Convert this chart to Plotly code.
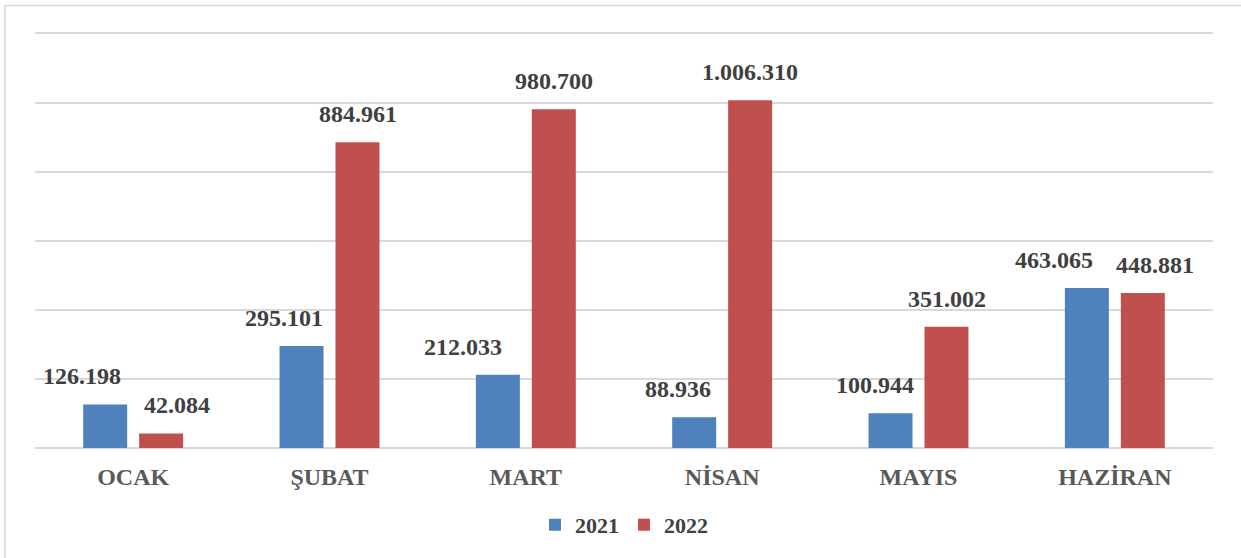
import plotly.graph_objects as go

months = ["OCAK", "ŞUBAT", "MART", "NİSAN", "MAYIS", "HAZİRAN"]
values_2021 = [126198, 295101, 212033, 88936, 100944, 463065]
values_2022 = [42084, 884961, 980700, 1006310, 351002, 448881]
series_names = ["2021", "2022"]

BLUE = "#4F81BD"
RED = "#C0504D"
TXT = "#404040"
FONT = "Liberation Serif, Times New Roman, serif"

def fmt(v):
    return f"{v:,}".replace(",", ".")

fig = go.Figure()
fig.add_trace(go.Bar(x=months, y=values_2021, name=series_names[0],
                     marker=dict(color=BLUE, line=dict(width=0))))
fig.add_trace(go.Bar(x=months, y=values_2022, name=series_names[1],
                     marker=dict(color=RED, line=dict(width=0))))

# data labels as annotations (Excel-like offsets)
blue_shift = [-23.5, -17.5, -35, -16, -16, -33]
red_shift = [15.5, 0, 0, 0, 0, 12]
for i, m in enumerate(months):
    fig.add_annotation(x=m, y=values_2021[i], text=fmt(values_2021[i]), showarrow=False,
                       xref="x", yref="y", xanchor="center", yanchor="bottom",
                       xshift=-28 + blue_shift[i], yshift=13,
                       font=dict(family=FONT, size=24, color=TXT, weight="bold"))
    fig.add_annotation(x=m, y=values_2022[i], text=fmt(values_2022[i]), showarrow=False,
                       xref="x", yref="y", xanchor="center", yanchor="bottom",
                       xshift=28 + red_shift[i], yshift=13,
                       font=dict(family=FONT, size=24, color=TXT, weight="bold"))

fig.update_layout(
    width=1241, height=558,
    margin=dict(l=35, r=28, t=29.5, b=110),
    paper_bgcolor="white", plot_bgcolor="white",
    barmode="group", bargap=0.43, bargroupgap=0.214,
    showlegend=True,
    legend=dict(orientation="h", x=0.5, xanchor="center", y=-0.184, yanchor="middle",
                font=dict(family=FONT, size=22, color=TXT, weight="bold"),
                itemwidth=30),
    xaxis=dict(showgrid=False, showline=False, ticks="", ticklabelstandoff=12,
               tickfont=dict(family=FONT, size=24, color="#595959", weight="bold")),
    yaxis=dict(range=[0, 1210000], tickvals=[0, 200000, 400000, 600000, 800000, 1000000, 1200000],
               showticklabels=False,
               showgrid=True, gridcolor="#D9D9D9", gridwidth=1.5,
               zeroline=True, zerolinecolor="#D9D9D9", zerolinewidth=1.5,
               showline=False),
)

fig.add_shape(type="rect", xref="paper", yref="paper",
              x0=-30/1178, x1=1+40/1178, y0=-130/418.5, y1=1+24.5/418.5,
              line=dict(color="#D9D9D9", width=1.5), fillcolor="rgba(0,0,0,0)", layer="below")

fig.write_html("out.html", config={"displayModeBar": False},
               post_script="document.body.style.margin='0';")
